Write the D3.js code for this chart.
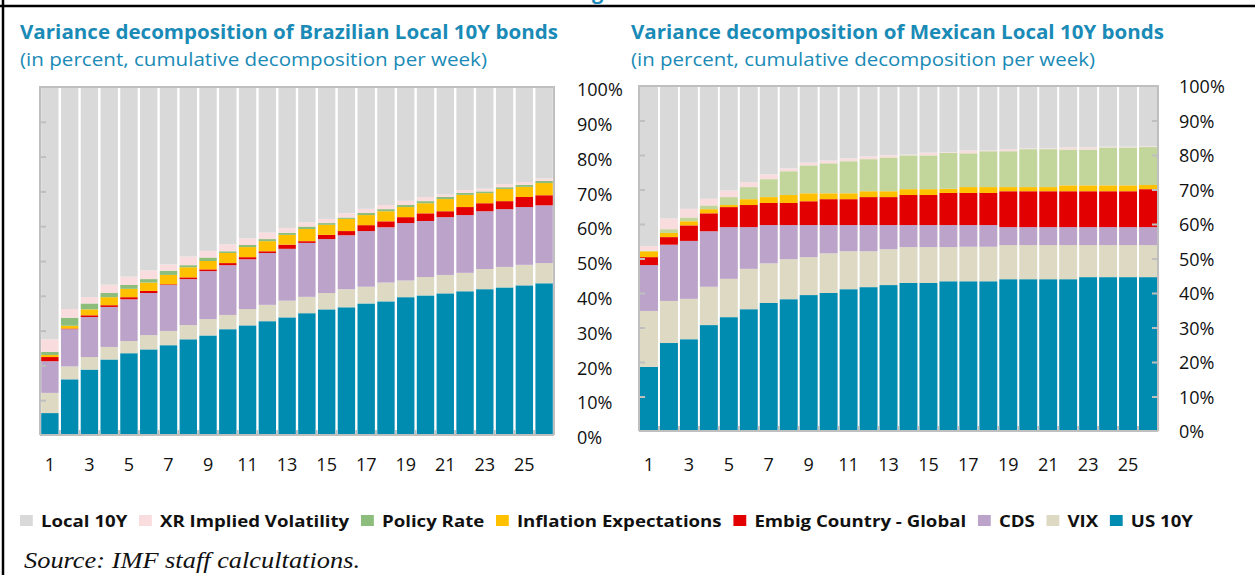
<!DOCTYPE html>
<html>
<head>
<meta charset="utf-8">
<script src="https://cdn.jsdelivr.net/npm/d3@7"></script>
<style>
  html, body { margin: 0; padding: 0; background: #fff; }
  svg { display: block; }
</style>
</head>
<body>
<div id="chart"></div>
<script>
// weeks on the x axis
const weeks = d3.range(1, 27);
const weekTicks = [1, 3, 5, 7, 9, 11, 13, 15, 17, 19, 21, 23, 25];
const pctTicks = [0, 10, 20, 30, 40, 50, 60, 70, 80, 90, 100];

// stacking order, bottom to top
const seriesKeys = ['US 10Y', 'VIX', 'CDS', 'Embig Country - Global', 'Inflation Expectations',
  'Policy Rate', 'XR Implied Volatility', 'Local 10Y'];
// legend order (as printed)
const legendKeys = ['Local 10Y', 'XR Implied Volatility', 'Policy Rate', 'Inflation Expectations',
  'Embig Country - Global', 'CDS', 'VIX', 'US 10Y'];

// ---- Brazil (percent of variance, per week)
const brUS10Y  = [6.3,16.0,18.8,21.7,23.5,24.6,25.8,27.5,28.6,30.4,31.5,32.7,33.8,35.0,36.1,36.7,37.8,38.4,39.6,40.1,40.7,41.3,41.9,42.4,43.0,43.6];
const brVIX    = [5.8,3.7,3.6,3.6,3.5,4.1,4.1,4.1,4.7,4.1,4.7,4.7,4.8,4.7,4.7,5.2,4.8,5.4,4.8,5.3,5.3,5.3,5.8,5.9,5.9,5.8];
const brCDS    = [9.1,10.7,11.5,11.5,12.0,12.1,13.2,13.2,13.8,14.3,14.3,14.9,14.9,15.5,15.5,15.5,16.0,15.9,16.5,16.1,16.6,16.6,16.6,16.6,16.6,16.6];
const brEmbig  = [1.2,0.2,0.5,0.5,0.6,0.6,0.2,0.5,0.5,0.6,0.6,0.5,1.2,0.5,1.2,1.2,1.7,1.7,1.7,2.2,1.7,2.3,2.3,2.3,2.9,2.9];
const brInfl   = [0.6,0.8,1.7,2.3,2.4,2.4,2.7,2.9,2.4,2.9,2.9,2.9,2.8,3.5,2.9,3.5,2.9,2.9,2.9,2.9,3.5,3.5,2.9,3.5,2.9,3.5];
const brPolicy = [0.9,2.3,1.7,1.2,1.1,1.0,1.2,0.6,1.0,0.5,0.6,0.6,0.6,0.7,0.5,0.4,0.6,0.6,0.6,0.6,0.6,0.6,0.5,0.5,0.6,0.6];
const brXR     = [3.6,2.5,1.8,2.4,2.4,2.5,1.8,2.5,1.9,2.0,1.9,1.9,1.4,1.2,1.2,1.2,1.2,1.2,1.2,1.2,0.7,0.8,0.8,0.9,0.8,0.7];
const brLocal  = [72.5,63.8,60.4,56.8,54.5,52.7,51.0,48.7,47.1,45.2,43.5,41.8,40.5,38.9,37.9,36.3,35.0,33.9,32.7,31.6,30.9,29.6,29.2,27.9,27.3,26.3];

// ---- Mexico
const mxUS10Y  = [18.6,25.5,26.6,30.7,33.0,35.3,37.1,38.2,39.4,40.0,41.1,41.7,42.3,42.9,42.9,43.4,43.4,43.4,44.0,44.0,44.0,44.0,44.6,44.6,44.6,44.6];
const mxVIX    = [16.2,12.2,11.7,11.1,11.1,11.7,11.5,11.6,11.0,11.5,11.0,10.4,10.4,10.4,10.4,9.9,10.0,10.0,9.9,9.9,9.9,9.9,9.3,9.3,9.3,9.3];
const mxCDS    = [13.3,16.3,16.8,16.1,15.0,12.1,11.1,9.9,9.3,8.2,7.6,7.6,7.0,6.4,6.4,6.4,6.3,6.3,5.2,5.2,5.2,5.2,5.2,5.2,5.2,5.2];
const mxEmbig  = [2.3,2.2,4.5,5.2,5.8,6.4,6.4,6.4,6.9,7.5,7.5,8.1,8.1,8.7,8.7,9.3,9.3,9.3,10.4,10.4,10.4,10.4,10.4,10.4,10.4,11.0];
const mxInfl   = [1.7,1.2,1.2,1.2,0.6,1.7,1.7,2.3,2.3,1.7,1.7,1.7,1.7,1.7,1.7,1.2,1.7,1.7,1.2,1.2,1.2,1.7,1.7,1.7,1.7,1.2];
const mxPolicy = [0.2,1.1,1.1,1.1,2.3,3.5,5.2,6.9,8.1,8.7,9.3,9.3,9.8,9.8,9.8,10.4,9.8,10.4,10.4,11.0,11.0,10.4,10.4,11.0,11.0,11.0];
const mxXR     = [1.3,3.1,2.5,1.9,1.9,1.4,1.4,0.8,0.8,0.8,0.8,0.8,0.6,0.2,0.8,0.2,0.8,0.2,0.6,0.2,0.2,0.6,0.6,0.2,0.2,0.2];
const mxLocal  = [46.4,38.4,35.6,32.7,30.3,27.9,25.6,23.9,22.2,21.6,21.0,20.4,20.1,19.9,19.3,19.2,18.7,18.7,18.3,18.1,18.1,17.8,17.8,17.6,17.6,17.5];

const colors = {
  'Local 10Y': '#d9d9d9',
  'XR Implied Volatility': '#f9dcdd',
  'Policy Rate': '#8cbd7c',
  'Inflation Expectations': '#ffc000',
  'Embig Country - Global': '#e20000',
  'CDS': '#bca3ca',
  'VIX': '#ddd9c3',
  'US 10Y': '#008bb0'
};
const teal = '#1a8ab6';
const axisGray = '#bfbfbf';

function buildRows(cols){
  return weeks.map((w, i) => {
    let row = {week: w};
    seriesKeys.forEach(k => { row[k] = cols[k][i]; });
    return row;
  });
}

const brRows = buildRows({'US 10Y': brUS10Y, 'VIX': brVIX, 'CDS': brCDS, 'Embig Country - Global': brEmbig,
  'Inflation Expectations': brInfl, 'Policy Rate': brPolicy, 'XR Implied Volatility': brXR, 'Local 10Y': brLocal});
const mxRows = buildRows({'US 10Y': mxUS10Y, 'VIX': mxVIX, 'CDS': mxCDS, 'Embig Country - Global': mxEmbig,
  'Inflation Expectations': mxInfl, 'Policy Rate': mxPolicy, 'XR Implied Volatility': mxXR, 'Local 10Y': mxLocal});

const width = 1260, height = 575;
const svg = d3.select('#chart').append('svg')
  .attr('width', width)
  .attr('height', height)
  .style('font-family', '"Open Sans", "Noto Sans", sans-serif');

// frame of the original figure (top edge and left edge only are in view)
svg.append('line').attr('x1', 0).attr('x2', 1255).attr('y1', 6).attr('y2', 6)
  .attr('stroke', '#000').attr('stroke-width', 2.5);
svg.append('line').attr('x1', 3).attr('x2', 3).attr('y1', 0).attr('y2', height)
  .attr('stroke', '#000').attr('stroke-width', 2.5);
// bottom of the cut-off figure heading
svg.append('text').text('g')
  .attr('x', 592).attr('y', -1)
  .style('font-size', '20px').style('font-weight', 'bold').style('fill', teal);

const stack = d3.stack().keys(seriesKeys).offset(d3.stackOffsetExpand);

function drawPanel(opts){
  const x = d3.scaleBand()
    .domain(weeks)
    .range([opts.left, opts.right])
    .paddingInner(opts.padding)
    .paddingOuter(opts.padding / 2);
  const y = d3.scaleLinear()
    .domain([0, 100])
    .range([opts.bottom, opts.top]);

  const g = svg.append('g').classed('panel', true);

  // titles
  g.append('text')
    .text(opts.title)
    .attr('x', opts.titleX).attr('y', 39)
    .attr('textLength', opts.titleW).attr('lengthAdjust', 'spacingAndGlyphs')
    .style('font-size', '19px').style('font-weight', 'bold').style('fill', teal);
  g.append('text')
    .text('(in percent, cumulative decomposition per week)')
    .attr('x', opts.titleX).attr('y', 66)
    .attr('textLength', opts.subW).attr('lengthAdjust', 'spacingAndGlyphs')
    .style('font-size', '19px').style('fill', teal);

  // stacked bars
  const layers = stack(opts.rows);
  g.append('g').selectAll('g')
    .data(layers)
    .join('g')
      .attr('fill', d => opts.colors[d.key] || colors[d.key])
    .selectAll('rect')
    .data(d => d)
    .join('rect')
      .attr('x', d => x(d.data.week))
      .attr('width', x.bandwidth())
      .attr('y', d => y(d[1] * 100))
      .attr('height', d => y(d[0] * 100) - y(d[1] * 100));

  // plot frame: top, left, right
  const frame = g.append('g')
    .attr('stroke', axisGray).attr('stroke-width', 2).attr('fill', 'none');
  frame.append('path')
    .attr('d', `M${opts.left},${opts.bottom} V${opts.top} H${opts.right} V${opts.bottom}`);

  // inward tick marks on the value axis
  const minorTicks = pctTicks.slice(1, -1);
  g.append('g')
    .attr('transform', `translate(${opts.left},0)`)
    .call(d3.axisLeft(y).tickValues(minorTicks).tickSize(-6).tickFormat(''))
    .call(a => a.select('.domain').remove())
    .call(a => a.selectAll('line').attr('stroke', axisGray).attr('stroke-width', 2));
  if (opts.rightTicks){
    g.append('g')
      .attr('transform', `translate(${opts.right},0)`)
      .call(d3.axisRight(y).tickValues(minorTicks).tickSize(-6).tickFormat(''))
      .call(a => a.select('.domain').remove())
      .call(a => a.selectAll('line').attr('stroke', axisGray).attr('stroke-width', 2));
  }

  // value labels to the right of the plot
  g.append('g')
    .attr('transform', `translate(${opts.labelX},${opts.labelDy})`)
    .call(d3.axisRight(y).tickValues(pctTicks).tickSize(0).tickPadding(0).tickFormat(d => d + '%'))
    .call(a => a.select('.domain').remove())
    .call(a => a.selectAll('text')
      .style('font-size', '18px').style('font-family', '"Open Sans", sans-serif').attr('fill', '#111'));

  // category axis
  const step = x.step(), gap = step - x.bandwidth();
  g.append('line')
    .attr('x1', opts.left).attr('x2', opts.right)
    .attr('y1', opts.bottom).attr('y2', opts.bottom)
    .attr('stroke', axisGray).attr('stroke-width', 2);
  g.append('g').selectAll('line')
    .data(weeks.slice(0, -1))
    .join('line')
      .attr('x1', d => x(d) + x.bandwidth() + gap / 2)
      .attr('x2', d => x(d) + x.bandwidth() + gap / 2)
      .attr('y1', opts.bottom).attr('y2', opts.bottom - 5)
      .attr('stroke', axisGray).attr('stroke-width', 2);
  g.append('g')
    .attr('transform', `translate(0,${opts.bottom})`)
    .call(d3.axisBottom(x).tickValues(weekTicks).tickSize(0).tickPadding(opts.xPad))
    .call(a => a.select('.domain').remove())
    .call(a => a.selectAll('text')
      .style('font-size', '18px').style('font-family', '"Open Sans", sans-serif').attr('fill', '#111'));
}

drawPanel({
  rows: brRows,
  title: 'Variance decomposition of Brazilian Local 10Y bonds',
  titleX: 20, titleW: 538, subW: 467,
  left: 40, right: 554, top: 87, bottom: 435,
  padding: 0.12,
  labelX: 577, labelDy: 3,
  xPad: 23,
  rightTicks: false,
  colors: {}
});

drawPanel({
  rows: mxRows,
  title: 'Variance decomposition of Mexican Local 10Y bonds',
  titleX: 631, titleW: 533, subW: 464,
  left: 639, right: 1158, top: 86, bottom: 431,
  padding: 0.1,
  labelX: 1179, labelDy: 1,
  xPad: 27,
  rightTicks: true,
  colors: {'Policy Rate': '#c2d69b'}
});

// legend
const legend = svg.append('g').classed('legend', true)
  .attr('transform', 'translate(20,521)');
let lx = 0;
legendKeys.forEach(k => {
  const item = legend.append('g').attr('transform', `translate(${lx},0)`);
  item.append('rect')
    .attr('x', 0).attr('y', -6).attr('width', 11).attr('height', 11)
    .attr('fill', colors[k]);
  const t = item.append('text')
    .text(k)
    .attr('x', 18).attr('y', 0).attr('dy', '0.35em')
    .style('font-size', '16px').style('font-weight', 'bold').style('fill', '#111');
  lx += 18 + t.node().getComputedTextLength() + 10;
});
// squeeze the legend to the width it has in the figure
const legendW = lx - 10;
legend.attr('transform', `translate(20,521) scale(${1173 / legendW},1)`);

svg.append('text')
  .text('Source: IMF staff calcultations.')
  .attr('x', 24).attr('y', 568)
  .attr('textLength', 336).attr('lengthAdjust', 'spacingAndGlyphs')
  .style('font-family', '"Liberation Serif", "Times New Roman", serif')
  .style('font-style', 'italic').style('font-size', '24px').style('fill', '#111');
</script>
</body>
</html>
